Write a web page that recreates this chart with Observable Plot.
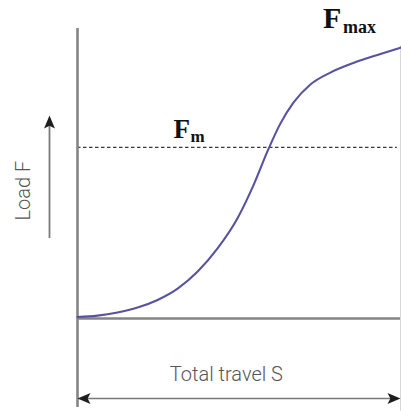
<!DOCTYPE html>
<html>
<head>
<meta charset="utf-8">
<script src="https://cdn.jsdelivr.net/npm/d3@7"></script>
<script src="https://cdn.jsdelivr.net/npm/@observablehq/plot@0.6"></script>
<style>
  html, body { margin: 0; padding: 0; background: #fff; }
  #chart svg { display: block; }
</style>
</head>
<body>
<div id="chart"></div>
<script>
// Normalized travel (0..1 = total travel S) and load (0..1 scale, Fmax near top)
const travel = [0.000, 0.062, 0.124, 0.186, 0.248, 0.310, 0.372, 0.433, 0.495, 0.545, 0.591, 0.628, 0.669, 0.721, 0.783, 0.854, 0.938, 1.000];
const load   = [0.005, 0.010, 0.021, 0.038, 0.064, 0.103, 0.162, 0.241, 0.345, 0.460, 0.584, 0.672, 0.745, 0.807, 0.848, 0.881, 0.912, 0.934];
const fmLevel = [0.590];
const xLabel = "Total travel S";
const yLabel = "Load F";
const fmLabel = ["F", "m"];
const fmaxLabel = ["F", "max"];

const curve = travel.map((t, i) => ({travel: t, load: load[i]}));

// filled arrowhead symbol, tip at the origin, pointing up
const arrowHead = {
  draw(ctx, size) {
    const r = Math.sqrt(size / Math.PI);
    ctx.moveTo(0, 0);
    ctx.lineTo(r * 0.42, r);
    ctx.lineTo(0, r * 0.78);
    ctx.lineTo(-r * 0.42, r);
    ctx.closePath();
  }
};

const serif = "'Liberation Serif', 'Times New Roman', serif";
const sans = "Roboto, 'Liberation Sans', Arial, sans-serif";

const plot = Plot.plot({
  width: 401,
  height: 412,
  margin: 0,
  x: {axis: null, domain: [0, 1], range: [77, 400]},
  y: {axis: null, domain: [0, 1], range: [318, 28]},
  style: {background: "#fff"},
  marks: [
    // faint right edge
    Plot.ruleX([1], {y1: 0.94, y2: -0.32, stroke: "#d8d8d8", strokeWidth: 1}),
    // Fm dashed level
    Plot.ruleY(fmLevel, {x1: 0, x2: 0.99, stroke: "#3a3a3a", strokeWidth: 1.4, strokeDasharray: "3.5,2.5"}),
    // baseline
    Plot.ruleY([0], {x1: 0, x2: 1, stroke: "#858585", strokeWidth: 2.6}),
    // vertical axis
    Plot.ruleX([0], {y1: -0.307, y2: 1.0, stroke: "#858585", strokeWidth: 2.6}),
    // travel double arrow
    Plot.ruleY([-0.276], {x1: 0.02, x2: 0.98, stroke: "#7a7a7a", strokeWidth: 1.6}),
    Plot.dot([{x: 0, y: -0.276, a: -90}, {x: 1, y: -0.276, a: 90}], {x: "x", y: "y", rotate: "a", symbol: arrowHead, r: 13, fill: "#1e1e1e", stroke: "none"}),
    // load arrow
    Plot.ruleX([-0.0867], {y1: 0.276, y2: 0.68, stroke: "#7a7a7a", strokeWidth: 1.8}),
    Plot.dot([{x: -0.0867, y: 0.70, a: 0}], {x: "x", y: "y", rotate: "a", symbol: arrowHead, r: 13, fill: "#1e1e1e", stroke: "none"}),
    // curve
    Plot.line(curve, {x: "travel", y: "load", stroke: "#57539e", strokeWidth: 2.1, curve: "monotone-x"}),
    // labels
    Plot.text([xLabel], {x: 0.461, y: -0.217, text: d => d, textAnchor: "middle", lineAnchor: "bottom", fontSize: 20, fontWeight: 300, fontFamily: sans, fill: "#555"}),
    Plot.text([yLabel], {x: -0.167, y: 0.441, text: d => d, rotate: -90, textAnchor: "middle", lineAnchor: "middle", fontSize: 20, fontWeight: 300, fontFamily: sans, fill: "#555"}),
    Plot.text([fmLabel[0]], {x: 0.297, y: 0.624, text: d => d, textAnchor: "start", lineAnchor: "bottom", fontSize: 27, fontWeight: "bold", fontFamily: serif, fill: "#111"}),
    Plot.text([fmLabel[1]], {x: 0.350, y: 0.607, text: d => d, textAnchor: "start", lineAnchor: "bottom", fontSize: 17, fontWeight: "bold", fontFamily: serif, fill: "#111"}),
    Plot.text([fmaxLabel[0]], {x: 0.760, y: 1.003, text: d => d, textAnchor: "start", lineAnchor: "bottom", fontSize: 30, fontWeight: "bold", fontFamily: serif, fill: "#111"}),
    Plot.text([fmaxLabel[1]], {x: 0.822, y: 0.983, text: d => d, textAnchor: "start", lineAnchor: "bottom", fontSize: 18, fontWeight: "bold", fontFamily: serif, fill: "#111"})
  ]
});

document.getElementById("chart").appendChild(plot);
</script>
</body>
</html>
